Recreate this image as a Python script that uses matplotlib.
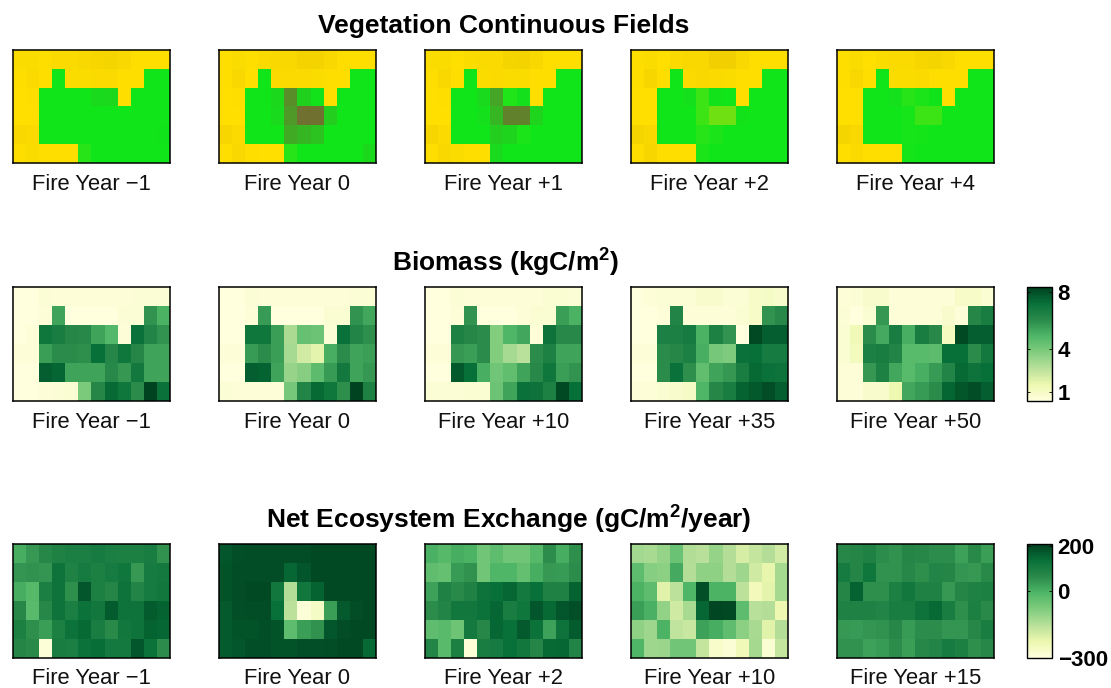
import matplotlib
matplotlib.use("Agg")
import matplotlib.pyplot as plt
from matplotlib.colors import LinearSegmentedColormap
import numpy as np

plt.rcParams['font.family'] = ['Liberation Sans', 'DejaVu Sans']
plt.rcParams['mathtext.fontset'] = 'custom'
plt.rcParams['mathtext.rm'] = 'Liberation Sans:bold'
plt.rcParams['mathtext.bf'] = 'Liberation Sans:bold'

W, H = 1111, 688

# panel labels
vcf_labels = ['Fire Year \u22121', 'Fire Year 0', 'Fire Year +1', 'Fire Year +2', 'Fire Year +4']
bio_labels = ['Fire Year \u22121', 'Fire Year 0', 'Fire Year +10', 'Fire Year +35', 'Fire Year +50']
nee_labels = ['Fire Year \u22121', 'Fire Year 0', 'Fire Year +2', 'Fire Year +10', 'Fire Year +15']

# vegetation class index: 2..3 grass (yellow), -1..1 forest (lime, green, brown)
vcf_m1 = [[2.2,2.2,2.1,2.3,2.3,2.4,2.5,2.6,2.4,2.1,2.1,2.1],
          [2.1,2.3,2.1,0,2.2,2.2,2.3,2.3,2.1,2.1,0,0],
          [2.0,2.1,0,0,0,0,.1,.12,2.1,0,0,0],
          [2.0,2.0,0,0,0,0,0,0,0,0,0,0],
          [2.4,2.3,0,0,0,0,0,0,0,0,0,.02],
          [2.1,2.2,2.1,2.1,2.1,-.2,0,0,0,0,0,0]]
vcf_0 = [[2.1,2.2,2.1,2.3,2.4,2.4,2.7,2.7,2.4,2.1,2.1,2.1],
         [2.1,2.4,2.0,0,2.3,2.3,2.3,2.2,2.1,2.1,0,0],
         [2.0,2.1,0,0,.12,.75,.18,.03,2.1,0,0,0],
         [2.0,2.0,0,0,.1,.65,1,1,.2,0,0,0],
         [2.5,2.3,0,0,0,.5,.4,.3,0,0,0,0],
         [2.1,2.4,2.1,2.05,2.05,-.2,0,0,0,0,0,.12]]
vcf_p1 = [[2.2,2.2,2.0,2.2,2.3,2.3,2.6,2.7,2.4,2.1,2.1,2.1],
          [2.1,2.4,2.1,0,2.2,2.3,2.2,2.2,2.1,2.1,0,0],
          [2.0,2.1,0,0,.1,.55,-.15,.05,2.1,0,0,0],
          [2.0,2.0,0,0,.05,.4,.85,.85,.15,0,0,0],
          [2.5,2.3,0,0,0,.2,.15,-.1,0,0,0,0],
          [2.1,2.4,2.2,2.1,2.1,.1,0,0,0,0,0,0]]
vcf_p2 = [[2.1,2.2,2.0,2.3,2.4,2.4,2.9,2.9,2.4,2.1,2.1,2.1],
          [2.1,2.5,2.1,0,2.3,2.4,2.3,2.2,2.1,2.1,0,0],
          [2.0,2.0,0,0,.05,-.4,.03,0,2.1,0,0,0],
          [2.0,2.0,0,0,0,-.4,-.85,-.85,.03,0,0,0],
          [2.6,2.4,0,0,0,-.2,-.1,0,0,0,0,0],
          [2.1,2.5,2.1,2.1,2.1,-.1,0,0,0,0,0,0]]
vcf_p4 = [[2.1,2.2,2.0,2.2,2.3,2.3,2.5,2.6,2.4,2.1,2.1,2.1],
          [2.1,2.4,2.1,0,2.2,2.2,2.3,2.1,2.1,2.1,0,0],
          [2.0,2.0,0,0,.05,-.2,-.1,.02,2.1,0,0,0],
          [2.0,2.0,0,0,0,-.05,-.4,-.4,0,0,0,0],
          [2.6,2.4,0,0,0,-.05,-.03,0,0,0,0,0],
          [2.1,2.3,2.1,2.1,2.1,-.03,0,0,0,0,0,0]]

# biomass, kgC/m2
bio_m1 = [[.4,.4,.6,.5,.5,.5,.5,.5,.5,.6,.6,.6],
          [.4,.4,.5,5.4,.4,.4,.4,.4,.6,.6,5.8,5.0],
          [.4,.5,6.9,6.6,6.2,6.1,5.4,4.8,.5,7.1,6.3,5.8],
          [.5,.5,5.5,6.0,6.0,5.9,7.2,6.2,6.9,6.2,5.4,5.4],
          [.4,.4,7.6,7.4,5.4,5.4,5.4,6.1,5.7,6.8,5.4,5.4],
          [.4,.4,.5,.6,.7,3.9,6.2,7.3,6.9,6.0,8.2,7.1]]
bio_0 = [[.4,.4,.6,.5,.5,.5,.5,.5,.5,.5,.6,.6],
         [.4,.4,.5,5.6,.4,.4,.4,.4,.7,.7,5.8,5.3],
         [.4,.4,6.9,6.9,5.5,2.9,4.4,4.2,.6,7.1,6.3,5.9],
         [.5,.5,5.6,6.0,5.5,3.0,2.1,1.7,5.1,6.0,5.4,5.5],
         [.4,.4,7.6,7.5,5.4,3.3,3.6,4.6,5.6,6.8,5.4,5.7],
         [.6,.5,.5,.5,.5,4.0,6.3,7.3,6.9,5.9,8.2,6.4]]
bio_p10 = [[.4,.4,.6,.5,.5,.5,.5,.5,.5,.7,.7,.6],
           [.4,.4,.5,5.8,.4,.4,.4,.5,.7,.7,5.5,5.0],
           [.4,.4,6.4,6.2,6.0,3.7,4.9,5.3,.5,7.0,6.1,6.1],
           [.5,.5,5.7,5.5,6.0,3.7,3.0,2.6,6.0,6.4,5.4,5.4],
           [.4,.4,7.7,7.2,5.1,4.1,4.5,5.4,6.1,6.9,5.5,5.8],
           [.6,.6,.6,.7,.7,4.2,5.4,7.1,7.0,6.4,8.1,7.2]]
bio_p35 = [[.4,.5,.6,.6,.6,.8,.8,.6,.6,.9,1.0,.8],
           [.4,.4,.5,6.3,.5,.5,.5,.5,.7,.9,5.8,6.1],
           [.4,.4,6.5,6.5,6.7,5.0,6.4,5.8,.4,8.1,7.6,7.6],
           [.5,.5,6.0,6.2,6.5,5.1,4.0,3.8,7.1,7.2,6.7,6.7],
           [.4,.4,6.0,7.1,5.9,4.5,5.4,5.7,6.6,7.3,7.1,7.0],
           [.5,.5,.7,.8,1.0,4.9,6.2,6.6,7.5,7.7,8.0,7.6]]
bio_p50 = [[.5,.6,.8,.8,.5,.5,.5,.5,.5,.9,.9,.7],
           [.6,.4,.7,5.7,.5,.5,.5,.5,.8,.5,6.2,6.6],
           [.7,1.3,6.0,5.2,6.6,5.1,6.6,6.1,1.1,8.1,7.6,7.6],
           [.7,1.2,6.5,6.6,6.3,4.7,4.7,4.6,7.2,7.2,6.0,6.8],
           [.5,.5,5.7,6.4,5.3,4.7,5.1,5.6,6.3,7.3,7.0,7.2],
           [.5,.5,.8,.8,1.5,5.3,5.6,6.0,7.4,7.8,8.0,7.6]]

# net ecosystem exchange, gC/m2/year
nee_m1 = [[5,40,70,85,95,95,105,95,90,90,100,50],
          [45,50,45,125,85,105,90,105,120,40,105,110],
          [5,-20,95,125,55,175,90,75,125,80,105,115],
          [70,-25,70,125,95,130,115,165,125,125,165,155],
          [90,55,30,90,130,145,100,65,115,125,155,150],
          [75,65,-290,100,95,130,140,110,110,175,130,60]]
nee_0 = [[175,185,190,190,190,190,190,195,195,195,195,195],
         [180,190,190,190,190,150,175,195,195,195,195,195],
         [180,190,195,195,115,-150,115,155,195,195,195,195],
         [170,185,190,190,135,-160,-290,-260,30,170,190,195],
         [170,180,180,185,180,-30,30,50,175,190,195,195],
         [165,175,185,185,180,180,185,185,190,195,195,145]]
nee_p2 = [[0,-20,5,-5,-60,-30,-60,-60,-20,60,5,55],
          [-35,-45,35,50,-60,-10,-10,-40,5,40,35,60],
          [25,85,65,85,125,135,150,110,135,85,85,155],
          [60,80,115,115,130,150,100,120,175,145,175,185],
          [-35,-25,-55,110,70,150,135,170,130,25,125,165],
          [80,-25,90,-290,100,105,135,115,75,145,150,80]]
nee_p10 = [[-125,-135,-110,-50,-145,-155,-110,-150,-195,-170,-150,-190],
           [-30,-90,-95,10,-150,-100,-100,-150,-120,-185,-220,-130],
           [-5,-30,-210,-160,-10,185,-5,-5,-160,-245,-215,-130],
           [30,0,-105,-185,-135,150,200,195,-30,-155,-150,-230],
           [-100,-120,-5,-165,-175,25,5,-35,-95,-135,-210,-150],
           [-10,-120,-115,-60,-60,-170,-270,-285,-240,-130,-280,-170]]
nee_p15 = [[70,75,85,60,50,75,70,60,60,25,65,30],
           [105,75,120,50,50,70,55,80,75,45,40,65],
           [75,155,55,55,90,115,85,85,40,75,85,90],
           [85,85,85,80,100,100,125,145,100,55,90,65],
           [40,35,45,50,70,35,60,60,45,45,70,100],
           [50,50,25,35,60,30,70,80,105,90,55,70]]

vcf_panels = [vcf_m1, vcf_0, vcf_p1, vcf_p2, vcf_p4]
bio_panels = [bio_m1, bio_0, bio_p10, bio_p35, bio_p50]
nee_panels = [nee_m1, nee_0, nee_p2, nee_p10, nee_p15]

# colormaps
cmap_green = LinearSegmentedColormap.from_list('ylgn', ['#ffffde', '#eef8b0', '#b8e09a', '#80cc7e',
                                                        '#4fb667', '#2a8a4a', '#087039', '#00401f'])
cmap_vcf = LinearSegmentedColormap.from_list('vcf', [(0, '#80e010'), (.25, '#10e61a'), (.5, '#707030'),
                                                     (.6, '#707030'), (.6, '#ffe000'), (.75, '#ffe000'),
                                                     (1, '#f0ce00')], N=1024)

def make_axes(x0, y0, x1, y1):
    return fig.add_axes([x0 / W, 1 - y1 / H, (x1 - x0) / W, (y1 - y0) / H])

fig = plt.figure(figsize=(W / 100, H / 100), dpi=100)

col_left = [13, 219, 425, 631, 837]
rows = [(50, 163), (287, 401), (544, 658)]
label_y = [185, 423, 679]

groups = [
    (vcf_panels, vcf_labels, cmap_vcf, -1, 3),
    (bio_panels, bio_labels, cmap_green, .37, 8.32),
    (nee_panels, nee_labels, cmap_green, -300, 210),
]
images = []
for (panels, labels, cmap, vmin, vmax), (y0, y1), ly in zip(groups, rows, label_y):
    for data, label, x0 in zip(panels, labels, col_left):
        ax = make_axes(x0, y0, x0 + 157, y1)
        im = ax.imshow(np.array(data, dtype=float), cmap=cmap, vmin=vmin, vmax=vmax,
                       aspect='auto', interpolation='nearest')
        ax.set_xticks([])
        ax.set_yticks([])
        for s in ax.spines.values():
            s.set_linewidth(1.1)
        fig.text((x0 + 78.5) / W, 1 - ly / H, label, ha='center', va='center',
                 fontsize=15.8, color='#111111')
    images.append(im)

titles = ['Vegetation Continuous Fields', 'Biomass (kgC/m$^{2}$)',
          'Net Ecosystem Exchange (gC/m$^{2}$/year)']
title_x = [504, 505.5, 509]
title_y = [26, 262, 519]
for t, x, y in zip(titles, title_x, title_y):
    fig.text(x / W, 1 - y / H, t, ha='center', va='center', fontsize=19, fontweight='bold')

# colorbars
for im, (y0, y1), ticks, tlabels in [(images[1], rows[1], [1, 4, 8], ['1', '4', '8']),
                                     (images[2], rows[2], [-300, 0, 200], ['\u2212300', '0', '200'])]:
    cax = make_axes(1027, y0, 1052, y1)
    cb = fig.colorbar(im, cax=cax, ticks=ticks)
    cb.ax.set_yticklabels(tlabels, fontsize=16, fontweight='bold')
    cb.ax.tick_params(length=2, width=0.6, pad=4, direction='in', right=True, left=True)
    cb.outline.set_linewidth(1.0)

fig.savefig('out.png', dpi=100)
